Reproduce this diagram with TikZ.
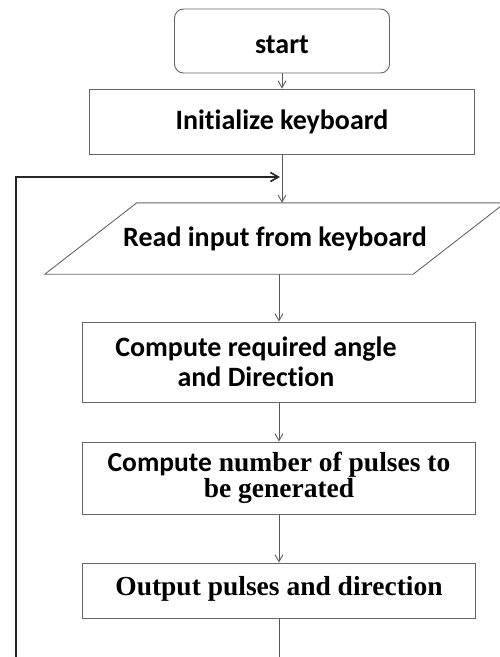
\documentclass[tikz,border=0pt]{standalone}
\usepackage{fontspec}
\setmainfont{Liberation Serif}
\setsansfont{Carlito}[Ligatures=CommonOff]
\usetikzlibrary{positioning}
\usetikzlibrary{arrows.meta}

\begin{document}
\begin{tikzpicture}[x=1pt, y=-1pt,
		>={Straight Barb[length=7pt,width=8pt]},
		box/.style={rectangle, draw=black!60, line width=0.9pt, minimum width=393pt, align=center},
		sans/.style={font=\sffamily\bfseries\fontsize{28}{30}\selectfont},
		serif/.style={font=\rmfamily\bfseries\fontsize{27.5}{26}\selectfont},
		flow/.style={draw=black!65, line width=0.9pt, ->},
		back/.style={draw=black!85, line width=1.6pt}]
				\useasboundingbox (0,0) rectangle (500,657);
				\node[box, sans, rounded corners=9pt, minimum width=215pt, minimum height=64pt, text height=26pt] (start) at (282,41) {start};
				\node[box, sans, minimum width=385pt, minimum height=65pt] (init) at (282,121.5) {Initialize keyboard};
				\node[sans, minimum width=368pt, minimum height=71pt] (readkey) at (275,238.5) {Read input from keyboard};
				\draw[black!60, line width=0.9pt] ([xshift=-46pt]readkey.south west) -- ([xshift=46pt]readkey.north west)
					-- ([xshift=46pt]readkey.north east) -- ([xshift=-46pt]readkey.south east) -- cycle;
				\node[box, sans, minimum height=80pt] (angle) at (279,362) {Compute required angle\hspace*{46pt}\\and Direction\hspace*{46pt}};
				\node[box, serif, minimum height=72pt] (pulses) at (279,478) {{\sffamily Compute} number of pulses to\\be generated};
				\node[box, serif, minimum height=55pt, text depth=10pt] (output) at (279,590.5) {Output pulses and direction};
				\coordinate (merge) at (282,177);
				\coordinate (tail) at (279,657);
				\coordinate (loop) at (16,657);
				
				\draw[flow]  (start) -- (init);
				\draw[flow]  (init) -- (init |- readkey.north);
				\draw[flow]  (readkey.south -| angle.north) -- (angle);
				\draw[flow]  (angle) -- (pulses);
				\draw[flow]  (pulses) -- (output);
				\draw[flow, -]  (output) -- (tail);
				\draw[back, -{Straight Barb[length=8pt,width=9pt]}]  (loop) |- ([xshift=-2pt]merge);
			\end{tikzpicture}
\end{document}
